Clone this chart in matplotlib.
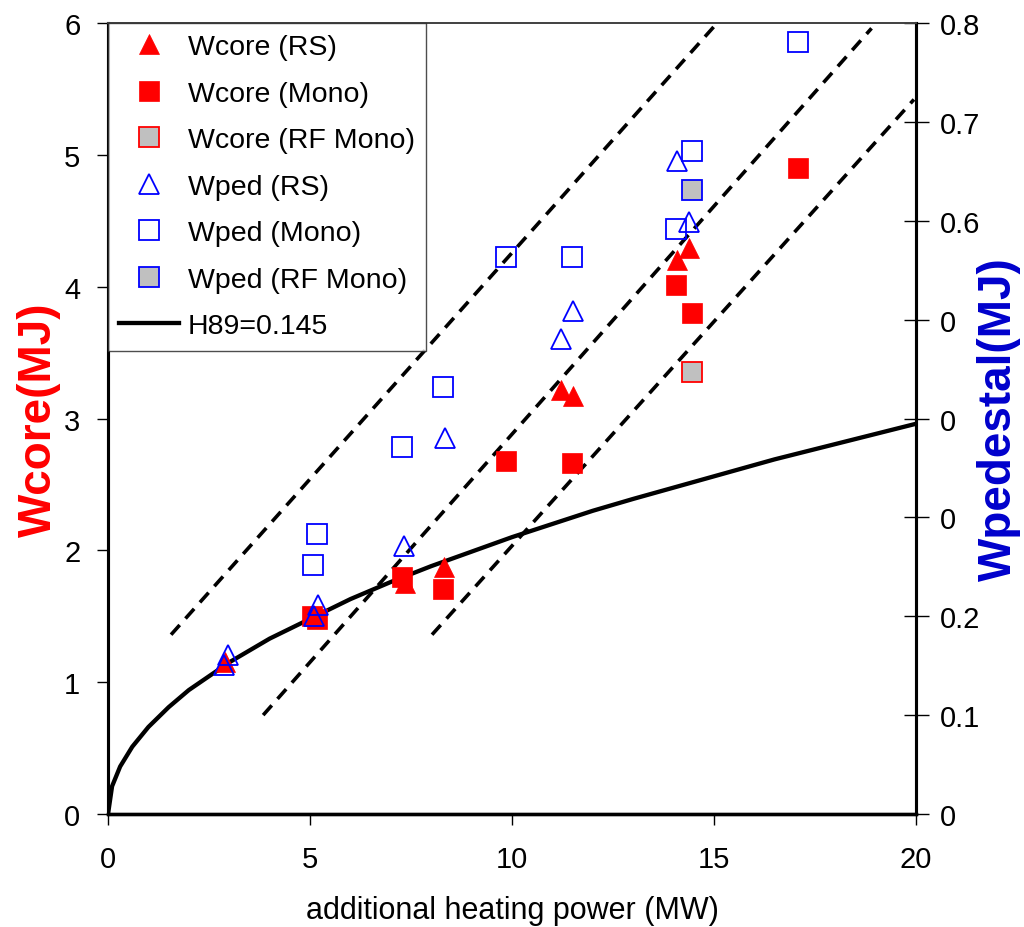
import matplotlib
matplotlib.use('Agg')
import matplotlib.pyplot as plt

plt.rcParams['font.family'] = ['Liberation Sans', 'DejaVu Sans']

# heating power (MW) and stored energies read for each shot group
p_core_rs = [2.90, 5.10, 7.35, 8.31, 11.21, 11.51, 14.08, 14.38]
w_core_rs = [1.15, 1.50, 1.75, 1.87, 3.22, 3.17, 4.20, 4.29]

p_core_mono = [5.05, 5.18, 7.28, 8.29, 9.85, 11.49, 14.06, 14.46, 17.08]
w_core_mono = [1.50, 1.48, 1.80, 1.71, 2.68, 2.66, 4.01, 3.80, 4.90]

p_core_rf = [14.46]
w_core_rf = [3.35]

p_ped_rs = [2.87, 2.97, 5.10, 5.20, 7.33, 8.34, 11.21, 11.51, 14.08, 14.38]
w_ped_rs = [0.151, 0.161, 0.200, 0.211, 0.271, 0.380, 0.480, 0.509, 0.660, 0.599]

p_ped_mono = [5.08, 5.17, 7.28, 8.29, 9.85, 11.49, 14.06, 14.46, 17.08]
w_ped_mono = [0.252, 0.283, 0.371, 0.432, 0.563, 0.563, 0.592, 0.671, 0.781]

p_ped_rf = [14.46]
w_ped_rf = [0.631]

# H89 scaling curve, H89 = 0.145
p_h89 = [0, 0.1, 0.3, 0.6, 1, 1.5, 2, 3, 4, 5, 6, 7, 8, 9, 10, 11, 12, 13, 16.5, 20]
w_h89 = [0, 0.21, 0.36, 0.51, 0.66, 0.81, 0.94, 1.15, 1.33, 1.48, 1.63, 1.76,
         1.88, 1.99, 2.10, 2.20, 2.30, 2.39, 2.69, 2.96]

# guide lines (start / end points)
guide_p = [[1.56, 15.02], [3.84, 18.90], [8.02, 19.95]]
guide_w = [[1.36, 5.98], [0.75, 5.96], [1.36, 5.42]]

x_ticks = [0, 5, 10, 15, 20]
core_ticks = [0, 1, 2, 3, 4, 5, 6]
ped_ticks = [0, 0.1, 0.2, 0.3, 0.4, 0.5, 0.6, 0.7, 0.8]
ped_ticklabels = ['0', '0.1', '0.2', '0', '0', '0', '0.6', '0.7', '0.8']

red = '#FF0000'
blue = '#0000FF'
grey = '#C0C0C0'
ms = 14.8

fig = plt.figure(figsize=(10.24, 9.28), dpi=100)
ax = fig.add_axes([0.1055, 0.1218, 0.789, 0.8523])
ax2 = ax.twinx()

# curves on the core axis
for gp, gw in zip(guide_p, guide_w):
    ax.plot(gp, gw, color='k', lw=2.6, dashes=(3.6, 2.4), zorder=2)
h89, = ax.plot(p_h89, w_h89, color='k', lw=3.1, zorder=3, label='H89=0.145')

h1, = ax.plot(p_core_rs, w_core_rs, '^', ms=ms, color=red, mec=red, mew=0.5,
              ls='none', label='Wcore (RS)', zorder=4)
h2, = ax.plot(p_core_mono, w_core_mono, 's', ms=ms, color=red, mec=red, mew=0.5,
              ls='none', label='Wcore (Mono)', zorder=4)
h3, = ax.plot(p_core_rf, w_core_rf, 's', ms=ms - 1, mfc=grey, mec=red, mew=1.3,
              ls='none', label='Wcore (RF Mono)', zorder=4)

h4, = ax2.plot(p_ped_rs, w_ped_rs, '^', ms=ms, mfc='none', mec=blue, mew=1.3,
               ls='none', label='Wped (RS)')
h5, = ax2.plot(p_ped_mono, w_ped_mono, 's', ms=ms - 1, mfc='none', mec=blue, mew=1.3,
               ls='none', label='Wped (Mono)')
h6, = ax2.plot(p_ped_rf, w_ped_rf, 's', ms=ms - 1, mfc=grey, mec=blue, mew=1.3,
               ls='none', label='Wped (RF Mono)')

ax.set_xlim(0, 20)
ax.set_ylim(0, 6)
ax2.set_ylim(0, 0.8)

ax.set_xticks(x_ticks)
ax.set_xticklabels([str(t) for t in x_ticks])
ax.set_yticks(core_ticks)
ax.set_yticklabels([str(t) for t in core_ticks])
ax2.set_yticks(ped_ticks)
ax2.set_yticklabels(ped_ticklabels)

ax.tick_params(axis='x', direction='out', length=8, width=1, labelsize=21, pad=14)
ax.tick_params(axis='y', direction='out', length=8, width=1, labelsize=21, pad=12)
ax2.tick_params(axis='y', direction='inout', length=18, width=1, labelsize=21, pad=8)

for a in (ax, ax2):
    a.spines['left'].set_linewidth(2.2)
    a.spines['bottom'].set_linewidth(2.4)
    a.spines['right'].set_linewidth(2.2)
    a.spines['top'].set_linewidth(1.3)
    a.spines['top'].set_color('#444444')

ax.set_xlabel('additional heating power (MW)', fontsize=22, labelpad=16)
ax.set_ylabel('Wcore(MJ)', fontsize=33, fontweight='bold', color=red, labelpad=2)
ax2.set_ylabel('Wpedestal(MJ)', fontsize=33, fontweight='bold', color='#0000CC',
               labelpad=-2)

leg = ax2.legend(handles=[h1, h2, h3, h4, h5, h6, h89], loc='upper left',
                 fontsize=20.5, frameon=True, fancybox=False, borderaxespad=0,
                 borderpad=0.4, labelspacing=0.72, handlelength=2.1,
                 handletextpad=0.3)
leg.get_frame().set_edgecolor('#222222')
leg.get_frame().set_linewidth(1.0)

fig.savefig('out.png', dpi=100)
